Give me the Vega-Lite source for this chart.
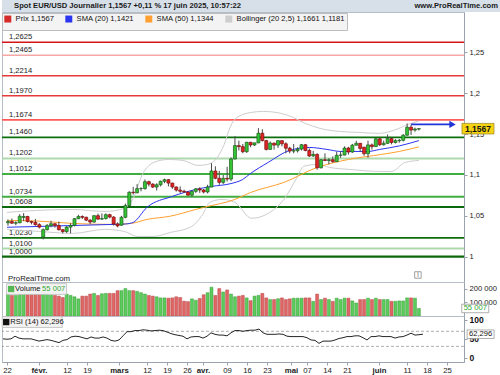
{
"$schema":"https://vega.github.io/schema/vega-lite/v6.json",
"padding":0,
"background":"white",
"spacing":0,
"bounds":"flush",
"title":{"text":"Spot EUR/USD Journalier 1,1567 +0,11 % 17 juin 2025, 10:57:22","anchor":"start","offset":-10,"dx":14,"fontSize":7.6,"fontWeight":"bold","color":"#1a1a1a"},
"config":{
 "font":"Liberation Sans",
 "locale":{"number":{"decimal":",","thousands":" ","grouping":[3],"currency":["",""]}},
 "view":{"stroke":"#b5bdc6","strokeWidth":1},
 "axis":{"labelColor":"#222","domainColor":"#9aa3ad","tickColor":"#9aa3ad","grid":false,"labelFontSize":7.6}
},
"datasets":{
 "levels":[
  {"p":1.2625,"t":"R1"},{"p":1.2465,"t":"R2"},{"p":1.2214,"t":"R3"},{"p":1.1970,"t":"R3"},{"p":1.1674,"t":"R4"},
  {"p":1.1460,"t":"S1"},{"p":1.1202,"t":"S2"},{"p":1.1012,"t":"S3"},{"p":1.0734,"t":"S3"},{"p":1.0608,"t":"S4"},
  {"p":1.0230,"t":"S1"},{"p":1.0100,"t":"S2"},{"p":1.0000,"t":"S4"}
 ],
 "last":[{"i":104,"p":1.1567,"v":55007,"r":62.296}],
 "rsilev":[{"r":70},{"r":30}],
 "ind":[
  {"s":"Bollinger (20 2,5)","b":"bu","i":-1.25,"p":1.0542},{"s":"Bollinger (20 2,5)","b":"bu","i":6.25,"p":1.0566},{"s":"Bollinger (20 2,5)","b":"bu","i":15.5,"p":1.0578},{"s":"Bollinger (20 2,5)","b":"bu","i":23.75,"p":1.0554},{"s":"Bollinger (20 2,5)","b":"bu","i":28.75,"p":1.0591},{"s":"Bollinger (20 2,5)","b":"bu","i":31.25,"p":1.0738},{"s":"Bollinger (20 2,5)","b":"bu","i":33,"p":1.0970},{"s":"Bollinger (20 2,5)","b":"bu","i":36.25,"p":1.1154},{"s":"Bollinger (20 2,5)","b":"bu","i":40,"p":1.1190},{"s":"Bollinger (20 2,5)","b":"bu","i":43.75,"p":1.1178},{"s":"Bollinger (20 2,5)","b":"bu","i":47.5,"p":1.1117},{"s":"Bollinger (20 2,5)","b":"bu","i":50,"p":1.1129},{"s":"Bollinger (20 2,5)","b":"bu","i":52.5,"p":1.1215},{"s":"Bollinger (20 2,5)","b":"bu","i":54.25,"p":1.1374},{"s":"Bollinger (20 2,5)","b":"bu","i":55.75,"p":1.1582},{"s":"Bollinger (20 2,5)","b":"bu","i":57.5,"p":1.1704},{"s":"Bollinger (20 2,5)","b":"bu","i":61.25,"p":1.1766},{"s":"Bollinger (20 2,5)","b":"bu","i":64.25,"p":1.1778},{"s":"Bollinger (20 2,5)","b":"bu","i":67.5,"p":1.1766},{"s":"Bollinger (20 2,5)","b":"bu","i":71.25,"p":1.1717},{"s":"Bollinger (20 2,5)","b":"bu","i":75,"p":1.1631},{"s":"Bollinger (20 2,5)","b":"bu","i":78.75,"p":1.1570},{"s":"Bollinger (20 2,5)","b":"bu","i":83.75,"p":1.1533},{"s":"Bollinger (20 2,5)","b":"bu","i":88.75,"p":1.1521},{"s":"Bollinger (20 2,5)","b":"bu","i":93.75,"p":1.1509},{"s":"Bollinger (20 2,5)","b":"bu","i":97.5,"p":1.1545},{"s":"Bollinger (20 2,5)","b":"bu","i":101.25,"p":1.1619},{"s":"Bollinger (20 2,5)","b":"bu","i":104,"p":1.1661},
  {"s":"Bollinger (20 2,5)","b":"bl","i":-1.25,"p":1.0334},{"s":"Bollinger (20 2,5)","b":"bl","i":7,"p":1.0309},{"s":"Bollinger (20 2,5)","b":"bl","i":15.5,"p":1.0285},{"s":"Bollinger (20 2,5)","b":"bl","i":23.75,"p":1.0334},{"s":"Bollinger (20 2,5)","b":"bl","i":28.75,"p":1.0309},{"s":"Bollinger (20 2,5)","b":"bl","i":32,"p":1.0248},{"s":"Bollinger (20 2,5)","b":"bl","i":36.25,"p":1.0248},{"s":"Bollinger (20 2,5)","b":"bl","i":40.5,"p":1.0297},{"s":"Bollinger (20 2,5)","b":"bl","i":45.5,"p":1.0358},{"s":"Bollinger (20 2,5)","b":"bl","i":48.75,"p":1.0517},{"s":"Bollinger (20 2,5)","b":"bl","i":50.5,"p":1.0664},{"s":"Bollinger (20 2,5)","b":"bl","i":53.75,"p":1.0701},{"s":"Bollinger (20 2,5)","b":"bl","i":57,"p":1.0664},{"s":"Bollinger (20 2,5)","b":"bl","i":61.25,"p":1.0470},{"s":"Bollinger (20 2,5)","b":"bl","i":65.5,"p":1.0530},{"s":"Bollinger (20 2,5)","b":"bl","i":69.5,"p":1.0701},{"s":"Bollinger (20 2,5)","b":"bl","i":73,"p":1.0982},{"s":"Bollinger (20 2,5)","b":"bl","i":74.5,"p":1.1105},{"s":"Bollinger (20 2,5)","b":"bl","i":78,"p":1.1129},{"s":"Bollinger (20 2,5)","b":"bl","i":81.25,"p":1.1092},{"s":"Bollinger (20 2,5)","b":"bl","i":86.25,"p":1.1068},{"s":"Bollinger (20 2,5)","b":"bl","i":94.5,"p":1.1043},{"s":"Bollinger (20 2,5)","b":"bl","i":97,"p":1.1043},{"s":"Bollinger (20 2,5)","b":"bl","i":100.5,"p":1.1154},{"s":"Bollinger (20 2,5)","b":"bl","i":104,"p":1.1178},
  {"s":"SMA (50)","b":"m50","i":-1.25,"p":1.0444},{"s":"SMA (50)","b":"m50","i":7,"p":1.0435},{"s":"SMA (50)","b":"m50","i":15.5,"p":1.0407},{"s":"SMA (50)","b":"m50","i":26,"p":1.0395},{"s":"SMA (50)","b":"m50","i":30.5,"p":1.0407},{"s":"SMA (50)","b":"m50","i":34.5,"p":1.0456},{"s":"SMA (50)","b":"m50","i":40.5,"p":1.0496},{"s":"SMA (50)","b":"m50","i":47,"p":1.0578},{"s":"SMA (50)","b":"m50","i":49,"p":1.0603},{"s":"SMA (50)","b":"m50","i":57,"p":1.0701},{"s":"SMA (50)","b":"m50","i":61,"p":1.0786},{"s":"SMA (50)","b":"m50","i":69.5,"p":1.0909},{"s":"SMA (50)","b":"m50","i":78,"p":1.1092},{"s":"SMA (50)","b":"m50","i":86,"p":1.1190},{"s":"SMA (50)","b":"m50","i":94.5,"p":1.1252},{"s":"SMA (50)","b":"m50","i":99,"p":1.1288},{"s":"SMA (50)","b":"m50","i":104,"p":1.1344},
  {"s":"SMA (20)","b":"m20","i":-1.25,"p":1.0360},{"s":"SMA (20)","b":"m20","i":7,"p":1.0370},{"s":"SMA (20)","b":"m20","i":16,"p":1.0382},{"s":"SMA (20)","b":"m20","i":26,"p":1.0395},{"s":"SMA (20)","b":"m20","i":29,"p":1.0400},{"s":"SMA (20)","b":"m20","i":31,"p":1.0420},{"s":"SMA (20)","b":"m20","i":34.5,"p":1.0603},{"s":"SMA (20)","b":"m20","i":41,"p":1.0738},{"s":"SMA (20)","b":"m20","i":47,"p":1.0823},{"s":"SMA (20)","b":"m20","i":51,"p":1.0860},{"s":"SMA (20)","b":"m20","i":56,"p":1.0895},{"s":"SMA (20)","b":"m20","i":59,"p":1.0946},{"s":"SMA (20)","b":"m20","i":61,"p":1.1019},{"s":"SMA (20)","b":"m20","i":65.5,"p":1.1154},{"s":"SMA (20)","b":"m20","i":71,"p":1.1301},{"s":"SMA (20)","b":"m20","i":76,"p":1.1337},{"s":"SMA (20)","b":"m20","i":80.5,"p":1.1313},{"s":"SMA (20)","b":"m20","i":84,"p":1.1288},{"s":"SMA (20)","b":"m20","i":91,"p":1.1288},{"s":"SMA (20)","b":"m20","i":94,"p":1.1313},{"s":"SMA (20)","b":"m20","i":99,"p":1.1356},{"s":"SMA (20)","b":"m20","i":104,"p":1.1421}
 ],
 "candles":[
  {"i":-1,"o":1.0415,"h":1.0456,"l":1.0380,"c":1.0430,"v":160000,"r":50},
  {"i":0,"o":1.0430,"h":1.0468,"l":1.0400,"c":1.0410,"v":150000,"r":49},
  {"i":1,"o":1.0410,"h":1.0434,"l":1.0385,"c":1.0415,"v":150000,"r":50},
  {"i":2,"o":1.0415,"h":1.0520,"l":1.0410,"c":1.0495,"v":162000,"r":57},
  {"i":3,"o":1.0480,"h":1.0533,"l":1.0435,"c":1.0492,"v":157000,"r":52},
  {"i":4,"o":1.0492,"h":1.0500,"l":1.0418,"c":1.0430,"v":161000,"r":50},
  {"i":5,"o":1.0430,"h":1.0440,"l":1.0395,"c":1.0421,"v":157000,"r":50},
  {"i":6,"o":1.0421,"h":1.0463,"l":1.0380,"c":1.0392,"v":160000,"r":50},
  {"i":7,"o":1.0392,"h":1.0410,"l":1.0345,"c":1.0362,"v":165000,"r":47},
  {"i":8,"o":1.0240,"h":1.0345,"l":1.0211,"c":1.0330,"v":166000,"r":44},
  {"i":9,"o":1.0330,"h":1.0400,"l":1.0320,"c":1.0380,"v":158000,"r":46},
  {"i":10,"o":1.0380,"h":1.0440,"l":1.0360,"c":1.0403,"v":152000,"r":48},
  {"i":11,"o":1.0403,"h":1.0410,"l":1.0355,"c":1.0382,"v":150000,"r":46},
  {"i":12,"o":1.0382,"h":1.0430,"l":1.0320,"c":1.0330,"v":145000,"r":43},
  {"i":13,"o":1.0330,"h":1.0340,"l":1.0285,"c":1.0308,"v":135000,"r":40},
  {"i":14,"o":1.0308,"h":1.0375,"l":1.0290,"c":1.0362,"v":160000,"r":46},
  {"i":15,"o":1.0362,"h":1.0410,"l":1.0285,"c":1.0383,"v":150000,"r":48},
  {"i":16,"o":1.0383,"h":1.0470,"l":1.0370,"c":1.0465,"v":140000,"r":55},
  {"i":17,"o":1.0465,"h":1.0513,"l":1.0460,"c":1.0492,"v":125000,"r":57},
  {"i":18,"o":1.0492,"h":1.0505,"l":1.0460,"c":1.0482,"v":145000,"r":56},
  {"i":19,"o":1.0482,"h":1.0490,"l":1.0435,"c":1.0447,"v":145000,"r":53},
  {"i":20,"o":1.0447,"h":1.0460,"l":1.0400,"c":1.0424,"v":160000,"r":50},
  {"i":21,"o":1.0424,"h":1.0505,"l":1.0415,"c":1.0502,"v":165000,"r":55},
  {"i":22,"o":1.0502,"h":1.0528,"l":1.0450,"c":1.0460,"v":150000,"r":52},
  {"i":23,"o":1.0460,"h":1.0530,"l":1.0450,"c":1.0466,"v":162000,"r":52},
  {"i":24,"o":1.0466,"h":1.0530,"l":1.0455,"c":1.0514,"v":165000,"r":55},
  {"i":25,"o":1.0514,"h":1.0527,"l":1.0470,"c":1.0485,"v":165000,"r":52},
  {"i":26,"o":1.0485,"h":1.0495,"l":1.0380,"c":1.0400,"v":165000,"r":46},
  {"i":27,"o":1.0400,"h":1.0420,"l":1.0360,"c":1.0376,"v":185000,"r":44},
  {"i":28,"o":1.0385,"h":1.0500,"l":1.0380,"c":1.0482,"v":185000,"r":47},
  {"i":29,"o":1.0482,"h":1.0650,"l":1.0470,"c":1.0625,"v":200000,"r":58},
  {"i":30,"o":1.0625,"h":1.0800,"l":1.0615,"c":1.0789,"v":185000,"r":69},
  {"i":31,"o":1.0789,"h":1.0855,"l":1.0760,"c":1.0783,"v":185000,"r":69},
  {"i":32,"o":1.0783,"h":1.0888,"l":1.0775,"c":1.0833,"v":180000,"r":72},
  {"i":33,"o":1.0833,"h":1.0850,"l":1.0800,"c":1.0834,"v":170000,"r":72},
  {"i":34,"o":1.0833,"h":1.0946,"l":1.0820,"c":1.0918,"v":160000,"r":74},
  {"i":35,"o":1.0918,"h":1.0930,"l":1.0860,"c":1.0888,"v":150000,"r":73},
  {"i":36,"o":1.0888,"h":1.0900,"l":1.0840,"c":1.0852,"v":145000,"r":71},
  {"i":37,"o":1.0852,"h":1.0900,"l":1.0810,"c":1.0880,"v":140000,"r":72},
  {"i":38,"o":1.0880,"h":1.0930,"l":1.0860,"c":1.0923,"v":132000,"r":73},
  {"i":39,"o":1.0923,"h":1.0955,"l":1.0900,"c":1.0942,"v":132000,"r":72},
  {"i":40,"o":1.0942,"h":1.0950,"l":1.0860,"c":1.0901,"v":130000,"r":68},
  {"i":41,"o":1.0901,"h":1.0905,"l":1.0830,"c":1.0853,"v":132000,"r":64},
  {"i":42,"o":1.0853,"h":1.0860,"l":1.0797,"c":1.0815,"v":140000,"r":61},
  {"i":43,"o":1.0815,"h":1.0860,"l":1.0780,"c":1.0801,"v":135000,"r":59},
  {"i":44,"o":1.0801,"h":1.0820,"l":1.0780,"c":1.0792,"v":108000,"r":57},
  {"i":45,"o":1.0792,"h":1.0800,"l":1.0745,"c":1.0753,"v":105000,"r":50},
  {"i":46,"o":1.0753,"h":1.0810,"l":1.0735,"c":1.0800,"v":125000,"r":55},
  {"i":47,"o":1.0800,"h":1.0840,"l":1.0780,"c":1.0830,"v":115000,"r":56},
  {"i":48,"o":1.0830,"h":1.0850,"l":1.0780,"c":1.0816,"v":128000,"r":56},
  {"i":49,"o":1.0816,"h":1.0830,"l":1.0775,"c":1.0792,"v":155000,"r":52},
  {"i":50,"o":1.0792,"h":1.0880,"l":1.0775,"c":1.0852,"v":170000,"r":57},
  {"i":51,"o":1.0852,"h":1.1144,"l":1.0850,"c":1.1049,"v":210000,"r":66},
  {"i":52,"o":1.1049,"h":1.1107,"l":1.0947,"c":1.0960,"v":150000,"r":62},
  {"i":53,"o":1.0960,"h":1.1050,"l":1.0880,"c":1.0910,"v":200000,"r":60},
  {"i":54,"o":1.0910,"h":1.1000,"l":1.0890,"c":1.0959,"v":175000,"r":60},
  {"i":55,"o":1.0959,"h":1.1100,"l":1.0920,"c":1.0950,"v":190000,"r":58},
  {"i":56,"o":1.0950,"h":1.1215,"l":1.0925,"c":1.1196,"v":160000,"r":66},
  {"i":57,"o":1.1196,"h":1.1474,"l":1.1190,"c":1.1360,"v":140000,"r":72},
  {"i":58,"o":1.1360,"h":1.1420,"l":1.1300,"c":1.1347,"v":145000,"r":72},
  {"i":59,"o":1.1347,"h":1.1380,"l":1.1265,"c":1.1285,"v":150000,"r":70},
  {"i":60,"o":1.1285,"h":1.1406,"l":1.1270,"c":1.1400,"v":132000,"r":72},
  {"i":61,"o":1.1400,"h":1.1405,"l":1.1340,"c":1.1367,"v":112000,"r":73},
  {"i":62,"o":1.1367,"h":1.1395,"l":1.1355,"c":1.1393,"v":145000,"r":73},
  {"i":63,"o":1.1393,"h":1.1573,"l":1.1390,"c":1.1511,"v":150000,"r":76},
  {"i":64,"o":1.1511,"h":1.1560,"l":1.1410,"c":1.1421,"v":165000,"r":66},
  {"i":65,"o":1.1421,"h":1.1430,"l":1.1300,"c":1.1313,"v":132000,"r":62},
  {"i":66,"o":1.1313,"h":1.1410,"l":1.1310,"c":1.1390,"v":120000,"r":62},
  {"i":67,"o":1.1390,"h":1.1395,"l":1.1310,"c":1.1366,"v":120000,"r":62},
  {"i":68,"o":1.1366,"h":1.1425,"l":1.1330,"c":1.1420,"v":126000,"r":63},
  {"i":69,"o":1.1420,"h":1.1425,"l":1.1350,"c":1.1382,"v":132000,"r":62},
  {"i":70,"o":1.1382,"h":1.1400,"l":1.1265,"c":1.1328,"v":120000,"r":57},
  {"i":71,"o":1.1328,"h":1.1345,"l":1.1265,"c":1.1293,"v":125000,"r":56},
  {"i":72,"o":1.1293,"h":1.1380,"l":1.1265,"c":1.1297,"v":130000,"r":56},
  {"i":73,"o":1.1297,"h":1.1340,"l":1.1275,"c":1.1317,"v":130000,"r":56},
  {"i":74,"o":1.1317,"h":1.1380,"l":1.1300,"c":1.1370,"v":130000,"r":56},
  {"i":75,"o":1.1370,"h":1.1380,"l":1.1290,"c":1.1300,"v":132000,"r":53},
  {"i":76,"o":1.1300,"h":1.1325,"l":1.1220,"c":1.1233,"v":132000,"r":47},
  {"i":77,"o":1.1233,"h":1.1295,"l":1.1220,"c":1.1252,"v":107000,"r":46},
  {"i":78,"o":1.1252,"h":1.1265,"l":1.1065,"c":1.1088,"v":160000,"r":38},
  {"i":79,"o":1.1088,"h":1.1195,"l":1.1080,"c":1.1187,"v":120000,"r":44},
  {"i":80,"o":1.1187,"h":1.1265,"l":1.1170,"c":1.1177,"v":130000,"r":44},
  {"i":81,"o":1.1177,"h":1.1205,"l":1.1130,"c":1.1187,"v":120000,"r":44},
  {"i":82,"o":1.1187,"h":1.1228,"l":1.1150,"c":1.1163,"v":107000,"r":47},
  {"i":83,"o":1.1163,"h":1.1285,"l":1.1160,"c":1.1241,"v":130000,"r":51},
  {"i":84,"o":1.1241,"h":1.1290,"l":1.1210,"c":1.1244,"v":120000,"r":53},
  {"i":85,"o":1.1244,"h":1.1350,"l":1.1240,"c":1.1330,"v":130000,"r":56},
  {"i":86,"o":1.1330,"h":1.1345,"l":1.1250,"c":1.1281,"v":130000,"r":56},
  {"i":87,"o":1.1281,"h":1.1380,"l":1.1270,"c":1.1365,"v":110000,"r":58},
  {"i":88,"o":1.1365,"h":1.1418,"l":1.1360,"c":1.1388,"v":95000,"r":58},
  {"i":89,"o":1.1388,"h":1.1390,"l":1.1285,"c":1.1325,"v":120000,"r":53},
  {"i":90,"o":1.1340,"h":1.1345,"l":1.1235,"c":1.1260,"v":120000,"r":47},
  {"i":91,"o":1.1260,"h":1.1420,"l":1.1210,"c":1.1368,"v":130000,"r":56},
  {"i":92,"o":1.1368,"h":1.1385,"l":1.1310,"c":1.1347,"v":120000,"r":56},
  {"i":93,"o":1.1347,"h":1.1455,"l":1.1345,"c":1.1443,"v":130000,"r":58},
  {"i":94,"o":1.1443,"h":1.1455,"l":1.1355,"c":1.1370,"v":120000,"r":56},
  {"i":95,"o":1.1370,"h":1.1420,"l":1.1360,"c":1.1388,"v":120000,"r":56},
  {"i":96,"o":1.1388,"h":1.1495,"l":1.1380,"c":1.1445,"v":120000,"r":56},
  {"i":97,"o":1.1445,"h":1.1455,"l":1.1375,"c":1.1398,"v":107000,"r":52},
  {"i":98,"o":1.1398,"h":1.1440,"l":1.1385,"c":1.1420,"v":107000,"r":55},
  {"i":99,"o":1.1420,"h":1.1440,"l":1.1395,"c":1.1425,"v":110000,"r":56},
  {"i":100,"o":1.1425,"h":1.1500,"l":1.1410,"c":1.1487,"v":110000,"r":60},
  {"i":101,"o":1.1487,"h":1.1631,"l":1.1480,"c":1.1585,"v":132000,"r":65},
  {"i":102,"o":1.1585,"h":1.1614,"l":1.1490,"c":1.1550,"v":132000,"r":60},
  {"i":103,"o":1.1550,"h":1.1580,"l":1.1530,"c":1.1562,"v":130000,"r":61},
  {"i":104,"o":1.1562,"h":1.1575,"l":1.1545,"c":1.1567,"v":55007,"r":62.296}
 ]
},
"vconcat":[
 {
  "width":500,"height":12,
  "view":{"fill":"#d7e0e9","stroke":null},
  "title":{"text":"www.ProRealTime.com","anchor":"end","offset":-10,"dx":-4,"fontSize":7.6,"fontWeight":"bold","color":"#1a1a1a"},
  "data":{"values":[{}]},
  "mark":{"type":"text","text":""},
  "encoding":{}
 },
 {
  "width":462,"height":270,
  "resolve":{"axis":{"x":"independent","y":"independent"}},
  "layer":[
   {
    "data":{"name":"levels"},
    "mark":{"type":"rule"},
    "encoding":{
     "y":{"field":"p","type":"quantitative","scale":{"domain":[0.969,1.2995],"nice":false,"zero":false},
          "axis":{"orient":"right","values":[1,1.05,1.1,1.15,1.2,1.25],"format":".2~f","title":null,"tickSize":3,"labelPadding":2,"labelFontSize":7.6}},
     "stroke":{"field":"t","type":"nominal","scale":{"domain":["R1","R2","R3","R4","S1","S2","S3","S4"],"range":["#d81414","#f5a6a6","#e63a3a","#ff5a5a","#0d6e0d","#add9ad","#41ae41","#0b690b"]},"legend":null},
     "strokeWidth":{"field":"t","type":"ordinal","scale":{"domain":["R1","R2","R3","R4","S1","S2","S3","S4"],"range":[1.4,2.2,1.2,3.2,1.7,2.4,1.4,3.0]},"legend":null}
    }
   },
   {
    "data":{"name":"levels"},
    "mark":{"type":"text","align":"left","baseline":"bottom","dx":2,"dy":-1,"fontSize":7.6,"color":"#1a1a1a"},
    "encoding":{
     "x":{"datum":-1.25,"type":"quantitative","axis":null},
     "y":{"field":"p","type":"quantitative","axis":null},
     "text":{"field":"p","type":"quantitative","format":".4f"}
    }
   },
   {
    "data":{"name":"ind"},
    "mark":{"type":"line","interpolate":"monotone","strokeWidth":1},
    "encoding":{
     "x":{"field":"i","type":"quantitative","scale":{"domain":[-1.25,114.25],"nice":false,"zero":false},"axis":null},
     "y":{"field":"p","type":"quantitative","axis":null},
     "detail":{"field":"b","type":"nominal"},
     "color":{"field":"s","type":"nominal",
       "scale":{"domain":["Prix","SMA (20)","SMA (50)","Bollinger (20 2,5)"],"range":["#d42a2a","#2a35f0","#ffa030","#cdcdcd"]},
       "legend":{"orient":"none","legendX":0,"legendY":13,"direction":"horizontal","title":null,"symbolType":"square","symbolSize":12,"symbolStrokeWidth":3.5,
         "labelFontSize":7.6,"labelColor":"#111","labelOffset":4,"columnPadding":5,"padding":2,"fillColor":"#f3f3f3","strokeColor":"#bdbdbd",
         "labelExpr":"datum.label == 'Prix' ? 'Prix 1,1567' : datum.label == 'SMA (20)' ? 'SMA (20) 1,1421' : datum.label == 'SMA (50)' ? 'SMA (50) 1,1344' : 'Bollinger (20 2,5) 1,1661 1,1181'"}}
    }
   },
   {
    "data":{"name":"candles"},
    "mark":{"type":"rule","color":"#4a4a4a","strokeWidth":1},
    "encoding":{
     "x":{"field":"i","type":"quantitative","axis":null},
     "y":{"field":"l","type":"quantitative","axis":null},
     "y2":{"field":"h"}
    }
   },
   {
    "data":{"name":"candles"},
    "mark":{"type":"bar","size":3,"strokeWidth":0.7},
    "encoding":{
     "x":{"field":"i","type":"quantitative","axis":null},
     "y":{"field":"o","type":"quantitative","axis":null},
     "y2":{"field":"c"},
     "fill":{"condition":{"test":"datum.c >= datum.o","value":"#33c433"},"value":"#e02424"},
     "stroke":{"condition":{"test":"datum.c >= datum.o","value":"#1d5a1d"},"value":"#7c1010"}
    }
   },
   {
    "data":{"name":"last"},
    "mark":{"type":"rule","color":"#2035d8","strokeWidth":1.6},
    "encoding":{"x":{"datum":102,"axis":null},"x2":{"datum":112},"y":{"datum":1.1619,"axis":null}}
   },
   {
    "data":{"name":"last"},
    "mark":{"type":"point","shape":"triangle-right","filled":true,"color":"#2035d8","size":55,"opacity":1},
    "encoding":{"x":{"datum":112.6,"axis":null},"y":{"datum":1.1619,"axis":null}}
   },
   {
    "data":{"name":"last"},
    "mark":{"type":"point","shape":"M-1,-0.33L1,-0.33L1,0.33L-1,0.33Z","size":1024,"filled":true,"fill":"#f6d312","stroke":"#a08e2a","strokeWidth":0.8,"opacity":1},
    "encoding":{"x":{"datum":119.1,"axis":null},"y":{"field":"p","type":"quantitative","axis":null}}
   },
   {
    "data":{"name":"last"},
    "mark":{"type":"text","fontWeight":"bold","fontSize":8.5,"color":"#111"},
    "encoding":{"x":{"datum":119.1,"axis":null},"y":{"field":"p","type":"quantitative","axis":null},"text":{"field":"p","type":"quantitative","format":".4f"}}
   },
   {
    "data":{"name":"last"},
    "mark":{"type":"text","align":"left","baseline":"middle","dx":1,"fontSize":7.8,"color":"#1a1a1a","text":"ProRealTime.com"},
    "encoding":{"x":{"datum":-1.25,"axis":null},"y":{"datum":0.9727,"axis":null}}
   },
   {
    "data":{"name":"last"},
    "mark":{"type":"point","shape":"square","size":42,"filled":false,"color":"#888","strokeWidth":0.8,"opacity":1},
    "encoding":{"x":{"datum":103.75,"axis":null},"y":{"datum":0.9776,"axis":null}}
   },
   {
    "data":{"name":"last"},
    "mark":{"type":"text","fontSize":6.5,"color":"#555","text":"i"},
    "encoding":{"x":{"datum":103.75,"axis":null},"y":{"datum":0.9776,"axis":null}}
   }
  ]
 },
 {
  "width":462,"height":34,
  "resolve":{"axis":{"x":"independent","y":"independent"}},
  "layer":[
   {
    "data":{"name":"candles"},
    "mark":{"type":"bar","size":3,"strokeWidth":0.5},
    "encoding":{
     "x":{"field":"i","type":"quantitative","scale":{"domain":[-1.25,114.25],"nice":false,"zero":false},"axis":null},
     "y":{"field":"v","type":"quantitative","scale":{"domain":[0,248000],"nice":false},
          "axis":{"orient":"right","values":[100000,200000],"format":",d","title":null,"tickSize":3,"labelPadding":2,"labelFontSize":7.6}},
     "fill":{"condition":{"test":"datum.c >= datum.o","value":"#5ccc5c"},"value":"#e06666"},
     "stroke":{"condition":{"test":"datum.c >= datum.o","value":"#3f9f3f"},"value":"#b84848"}
    }
   },
   {
    "data":{"name":"last"},
    "mark":{"type":"point","shape":"M-1,-0.18L1,-0.18L1,0.18L-1,0.18Z","size":3600,"filled":true,"fill":"#f3f3f3","stroke":"#bdbdbd","strokeWidth":0.8,"opacity":1},
    "encoding":{"x":{"datum":6.3,"axis":null},"y":{"datum":197000,"axis":null}}
   },
   {
    "data":{"name":"last"},
    "mark":{"type":"point","shape":"square","size":40,"filled":true,"color":"#55b855","opacity":1},
    "encoding":{"x":{"datum":-0.2,"axis":null},"y":{"datum":197000,"axis":null}}
   },
   {
    "data":{"name":"last"},
    "mark":{"type":"text","align":"left","baseline":"middle","dx":4,"fontSize":7.6,"color":"#111","text":"Volume"},
    "encoding":{"x":{"datum":-0.2,"axis":null},"y":{"datum":197000,"axis":null}}
   },
   {
    "data":{"name":"last"},
    "mark":{"type":"text","align":"left","baseline":"middle","dx":31,"fontSize":7.6,"color":"#2fa82f"},
    "encoding":{"x":{"datum":-0.2,"axis":null},"y":{"datum":197000,"axis":null},"text":{"field":"v","type":"quantitative","format":",d"}}
   },
   {
    "data":{"name":"last"},
    "mark":{"type":"point","shape":"M-1,-0.315L1,-0.315L1,0.315L-1,0.315Z","size":729,"filled":true,"fill":"white","stroke":"#9a9a9a","strokeWidth":0.8,"opacity":1},
    "encoding":{"x":{"datum":118.4,"axis":null},"y":{"field":"v","type":"quantitative","axis":null}}
   },
   {
    "data":{"name":"last"},
    "mark":{"type":"text","fontSize":7.6,"color":"#2fa82f"},
    "encoding":{"x":{"datum":118.4,"axis":null},"y":{"field":"v","type":"quantitative","axis":null},"text":{"field":"v","type":"quantitative","format":",d"}}
   }
  ]
 },
 {
  "width":462,"height":46,
  "resolve":{"axis":{"x":"independent","y":"independent"}},
  "layer":[
   {
    "data":{"name":"rsilev"},
    "mark":{"type":"rule","color":"#9a9a9a","strokeWidth":0.8,"strokeDash":[3,2]},
    "encoding":{
     "y":{"field":"r","type":"quantitative","scale":{"domain":[-11.4,110.6],"nice":false,"zero":false},
          "axis":{"orient":"right","values":[0,50,100],"title":null,"tickSize":3,"labelPadding":2,"labelFontSize":8.5,"labelFontWeight":"bold","labelColor":"#111"}}
    }
   },
   {
    "data":{"name":"candles"},
    "mark":{"type":"line","strokeWidth":1,"color":"#262626"},
    "encoding":{
     "x":{"field":"i","type":"quantitative","scale":{"domain":[-1.25,114.25],"nice":false,"zero":false},
          "axis":{"orient":"bottom","title":null,"values":[0,8,15,20,28,35,40,45,49,55,60,65,71,75,80,85,93,100,105,110],
            "labelExpr":"datum.value == 0 ? '22' : datum.value == 8 ? 'févr.' : datum.value == 15 ? '12' : datum.value == 20 ? '19' : datum.value == 28 ? 'mars' : datum.value == 35 ? '12' : datum.value == 40 ? '19' : datum.value == 45 ? '26' : datum.value == 49 ? 'avr.' : datum.value == 55 ? '09' : datum.value == 60 ? '16' : datum.value == 65 ? '23' : datum.value == 71 ? 'mai' : datum.value == 75 ? '07' : datum.value == 80 ? '14' : datum.value == 85 ? '21' : datum.value == 93 ? 'juin' : datum.value == 100 ? '11' : datum.value == 105 ? '18' : '25'",
            "labelFontWeight":{"condition":{"test":"indexof([8,28,49,71,93], datum.value) >= 0","value":"bold"},"value":"normal"},
            "labelFontSize":7.8,"tickSize":3,"labelPadding":1,"labelOverlap":false,"labelFlush":false,"labelBound":false}},
     "y":{"field":"r","type":"quantitative","axis":null}
    }
   },
   {
    "data":{"name":"last"},
    "mark":{"type":"point","shape":"M-1,-0.18L1,-0.18L1,0.18L-1,0.18Z","size":3600,"filled":true,"fill":"#f3f3f3","stroke":"#bdbdbd","strokeWidth":0.8,"opacity":1},
    "encoding":{"x":{"datum":6.3,"axis":null},"y":{"datum":94.5,"axis":null}}
   },
   {
    "data":{"name":"last"},
    "mark":{"type":"point","shape":"square","size":40,"filled":true,"color":"#111","opacity":1},
    "encoding":{"x":{"datum":-0.2,"axis":null},"y":{"datum":94.5,"axis":null}}
   },
   {
    "data":{"name":"last"},
    "mark":{"type":"text","align":"left","baseline":"middle","dx":4,"fontSize":7.6,"color":"#111","text":"RSI (14) 62,296"},
    "encoding":{"x":{"datum":-0.2,"axis":null},"y":{"datum":94.5,"axis":null}}
   },
   {
    "data":{"name":"last"},
    "mark":{"type":"point","shape":"M-1,-0.315L1,-0.315L1,0.315L-1,0.315Z","size":729,"filled":true,"fill":"white","stroke":"#9a9a9a","strokeWidth":0.8,"opacity":1},
    "encoding":{"x":{"datum":118.4,"axis":null},"y":{"field":"r","type":"quantitative","axis":null}}
   },
   {
    "data":{"name":"last"},
    "mark":{"type":"text","fontSize":7.6,"color":"#111"},
    "encoding":{"x":{"datum":118.4,"axis":null},"y":{"field":"r","type":"quantitative","axis":null},"text":{"field":"r","type":"quantitative","format":".3f"}}
   }
  ]
 }
]
}
